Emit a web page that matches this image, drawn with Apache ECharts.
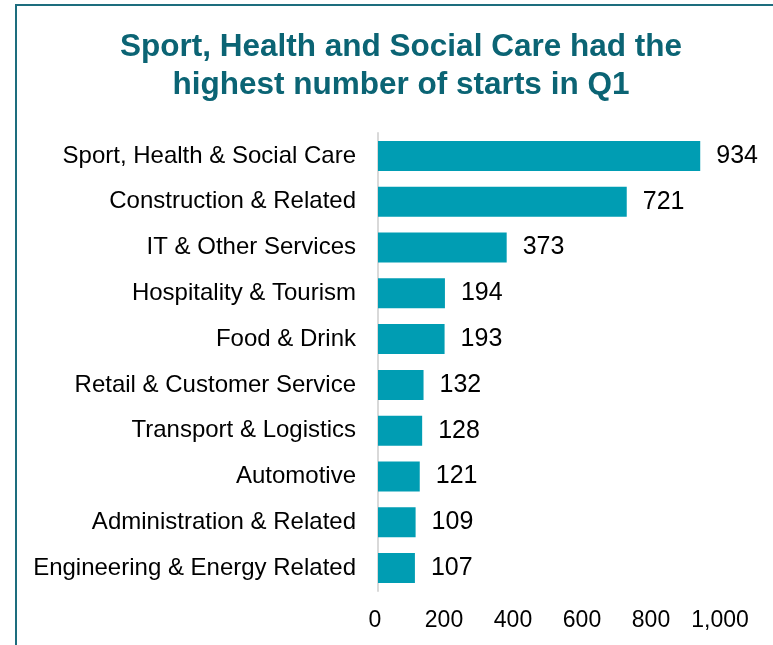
<!DOCTYPE html>
<html>
<head>
<meta charset="utf-8">
<script src="https://cdn.jsdelivr.net/npm/echarts@6/dist/echarts.min.js"></script>
<style>
  html, body { margin: 0; padding: 0; background: #fff; }
  #frame {
    position: absolute; left: 15px; top: 4px; right: 0; bottom: 0;
    border-left: 2px solid #1d6d7e; border-top: 2px solid #1d6d7e;
  }
  #chart { position: absolute; left: 0; top: 0; width: 773px; height: 645px; }
</style>
</head>
<body>
<div id="frame"></div>
<div id="chart"></div>
<script>
// 各行业的开工人数（Q1）
const categories = [
  'Sport, Health & Social Care',
  'Construction & Related',
  'IT & Other Services',
  'Hospitality & Tourism',
  'Food & Drink',
  'Retail & Customer Service',
  'Transport & Logistics',
  'Automotive',
  'Administration & Related',
  'Engineering & Energy Related'
]
const starts = [934, 721, 373, 194, 193, 132, 128, 121, 109, 107]
const tickValues = [0, 200, 400, 600, 800, 1000]

const mChart = echarts.init(document.getElementById('chart'))

const options = {
  animation: false,
  title: {
    text: 'Sport, Health and Social Care had the\nhighest number of starts in Q1',
    left: 396,
    top: 23,
    textAlign: 'center',
    textStyle: {
      fontFamily: 'Liberation Sans, Arial, sans-serif',
      fontSize: 31.5,
      fontWeight: 'bold',
      color: '#0b6474',
      lineHeight: 38
    }
  },
  grid: {
    left: 378,
    right: 50,
    top: 133,
    height: 458
  },
  xAxis: {
    type: 'value',
    min: 0,
    max: 1000,
    interval: 200,
    splitLine: { show: false },
    axisLine: { show: false },
    axisTick: { show: false },
    axisLabel: {
      margin: 18,
      padding: [0, 6, 0, 0],
      fontFamily: 'Liberation Sans, Arial, sans-serif',
      fontSize: 23,
      color: '#000',
      formatter: v => tickValues.includes(v) ? v.toLocaleString('en-US') : ''
    }
  },
  yAxis: {
    type: 'category',
    data: categories,
    inverse: true,
    axisTick: { show: false },
    axisLine: { show: true, lineStyle: { color: '#d9d9d9', width: 2 } },
    axisLabel: {
      margin: 22,
      fontFamily: 'Liberation Sans, Arial, sans-serif',
      fontSize: 24,
      color: '#000'
    }
  },
  series: [{
    type: 'bar',
    data: starts,
    barWidth: 30,
    itemStyle: { color: '#009db3' },
    label: {
      show: true,
      position: 'right',
      distance: 16,
      fontFamily: 'Liberation Sans, Arial, sans-serif',
      fontSize: 25,
      color: '#000'
    }
  }]
}
mChart.setOption(options)
</script>
</body>
</html>
